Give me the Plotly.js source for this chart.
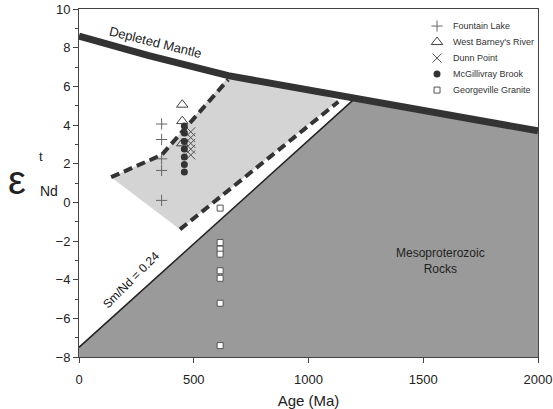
<!DOCTYPE html>
<html><head><meta charset="utf-8">
<script src="https://cdn.plot.ly/plotly-3.0.1.min.js"></script>
<style>html,body{margin:0;padding:0;background:#fff}#chart{width:553px;height:409px}</style>
</head><body><div id="chart"></div>
<script>
// Depleted mantle evolution curve
const mantleAge = [0, 300, 650, 1000, 1500, 2000];
const mantleEps = [8.6, 7.6, 6.55, 5.8, 4.75, 3.7];
// Sm/Nd = 0.24 reference line
const smndAge = [0, 1200];
const smndEps = [-7.5, 5.35];
// Mesoproterozoic rocks field
const mesoAge = [0, 1200, 1500, 2000, 2000, 0];
const mesoEps = [-7.5, 5.35, 4.75, 3.7, -8, -8];
// light grey field
const fieldAge = [140, 360, 650, 1000, 1130, 440];
const fieldEps = [1.3, 2.45, 6.5, 5.8, 5.25, -1.4];
const upperDashAge = [140, 360, 650];
const upperDashEps = [1.3, 2.45, 6.35];
const lowerDashAge = [440, 1130];
const lowerDashEps = [-1.4, 5.2];
// samples
const fountainAge = [360, 360, 360, 360, 360];
const fountainEps = [4.05, 3.25, 2.25, 1.65, 0.1];
const barneyAge = [450, 450, 450];
const barneyEps = [5.05, 4.2, 3.05];
const dunnAge = [487, 487, 487, 487, 487];
const dunnEps = [3.65, 3.35, 3.05, 2.75, 2.45];
const mcgAge = [459, 459, 459, 459, 459, 459, 459];
const mcgEps = [3.95, 3.58, 3.15, 2.76, 2.35, 1.96, 1.57];
const georgeAge = [615, 615, 615, 615, 615, 615, 615, 615];
const georgeEps = [-0.3, -2.08, -2.42, -2.68, -3.54, -3.93, -5.22, -7.41];
const seriesNames = ['Fountain Lake', "West Barney's River", 'Dunn Point', 'McGillivray Brook', 'Georgeville Granite'];

const FONT = 'Liberation Sans, Arial, sans-serif';
const mk = {
  fountain: {symbol: 'cross-thin-open', size: 8, color: '#666', line: {color: '#666', width: 1}},
  barney: {symbol: 'triangle-up-open', size: 10, color: '#444', line: {color: '#444', width: 1}},
  dunn: {symbol: 'x-thin-open', size: 9, color: '#555', line: {color: '#555', width: 1}},
  mcg: {symbol: 'circle', size: 7, color: '#333', line: {width: 0}},
  george: {symbol: 'square', size: 6, color: '#fff', line: {color: '#555', width: 1}}
};
const mkList = [mk.fountain, mk.barney, mk.dunn, mk.mcg, mk.george];

const traces = [
  {x: mesoAge, y: mesoEps, mode: 'lines', fill: 'toself', fillcolor: '#9a9a9a', line: {width: 0}, hoverinfo: 'skip'},
  {x: fieldAge, y: fieldEps, mode: 'lines', fill: 'toself', fillcolor: '#d4d4d4', line: {width: 0}, hoverinfo: 'skip'},
  {x: smndAge, y: smndEps, mode: 'lines', line: {color: '#222', width: 1.5}},
  {x: upperDashAge, y: upperDashEps, mode: 'lines', line: {color: '#333', width: 4, dash: '9px,5px'}},
  {x: lowerDashAge, y: lowerDashEps, mode: 'lines', line: {color: '#333', width: 4, dash: '9px,5px'}},
  {x: mantleAge, y: mantleEps, mode: 'lines', line: {color: '#333', width: 7}},
  {x: fountainAge, y: fountainEps, mode: 'markers', marker: mk.fountain},
  {x: barneyAge, y: barneyEps, mode: 'markers', marker: mk.barney},
  {x: dunnAge, y: dunnEps, mode: 'markers', marker: mk.dunn},
  {x: mcgAge, y: mcgEps, mode: 'markers', marker: mk.mcg},
  {x: georgeAge, y: georgeEps, mode: 'markers', marker: mk.george}
];

// legend built on an overlay axis in paper-like units
const legX = 0.78, legText = 0.81, legTop = 0.951, legStep = 0.046;
const annotations = [];
seriesNames.forEach((n, i) => {
  traces.push({x: [legX], y: [legTop - i * legStep], xaxis: 'x2', yaxis: 'y2', mode: 'markers', marker: mkList[i], cliponaxis: false});
  annotations.push({xref: 'paper', yref: 'paper', x: legText, y: legTop - i * legStep, xanchor: 'left', yanchor: 'middle',
    text: n, showarrow: false, font: {family: FONT, size: 9, color: '#333'}});
});
traces.forEach(t => { t.showlegend = false; });

annotations.push(
  {x: 335, y: 8.25, text: 'Depleted Mantle', showarrow: false, textangle: 14, font: {family: FONT, size: 13, color: '#222'}},
  {x: 227, y: -4.0, text: 'Sm/Nd = 0.24', showarrow: false, textangle: -45, font: {family: FONT, size: 12, color: '#111'}},
  {x: 1577, y: -3.05, text: 'Mesoproterozoic<br>Rocks', showarrow: false, font: {family: FONT, size: 12, color: '#222'}},
  {xref: 'paper', yref: 'paper', x: -0.135, y: 0.51, text: 'ε', showarrow: false, xanchor: 'center', yanchor: 'middle', font: {family: FONT, size: 40, color: '#222'}},
  {xref: 'paper', yref: 'paper', x: -0.083, y: 0.575, text: 't', showarrow: false, xanchor: 'center', yanchor: 'middle', font: {family: FONT, size: 13, color: '#222'}},
  {xref: 'paper', yref: 'paper', x: -0.065, y: 0.476, text: 'Nd', showarrow: false, xanchor: 'center', yanchor: 'middle', font: {family: FONT, size: 14, color: '#222'}}
);

const layout = {
  width: 553, height: 409,
  margin: {l: 79, r: 15, t: 9, b: 52},
  paper_bgcolor: '#fff', plot_bgcolor: '#fff',
  font: {family: FONT, color: '#222'},
  showlegend: false,
  xaxis: {range: [0, 2000], dtick: 500, tick0: 0, ticks: 'outside', ticklen: 5, tickcolor: '#444',
    showline: true, mirror: true, linecolor: '#444', linewidth: 1, showgrid: false, zeroline: false,
    ticklabelstandoff: 5,
    tickfont: {size: 13, color: '#222'}, title: {text: 'Age (Ma)', font: {size: 15, color: '#222'}, standoff: 12}},
  yaxis: {range: [-8, 10], dtick: 2, tick0: 0, ticks: 'outside', ticklen: 5, tickcolor: '#444',
    minor: {dtick: 1, ticks: 'outside', ticklen: 3, tickcolor: '#444'},
    showline: true, mirror: true, linecolor: '#444', linewidth: 1, showgrid: false, zeroline: false,
    tickfont: {size: 13, color: '#222'}},
  xaxis2: {overlaying: 'x', range: [0, 1], visible: false, fixedrange: true},
  yaxis2: {overlaying: 'y', range: [0, 1], visible: false, fixedrange: true},
  annotations: annotations
};

Plotly.newPlot('chart', traces, layout, {staticPlot: true});
</script>
</body></html>
